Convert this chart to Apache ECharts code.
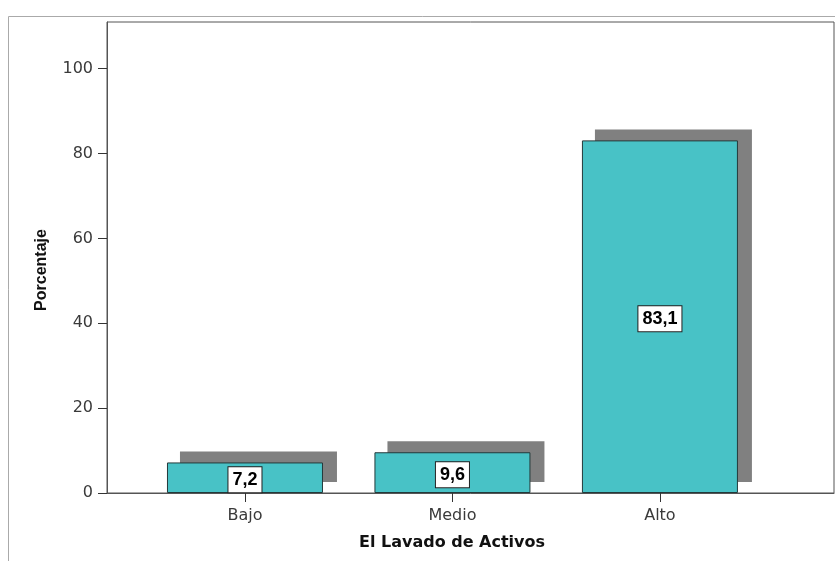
<!DOCTYPE html>
<html>
<head>
<meta charset="utf-8">
<script src="https://cdn.jsdelivr.net/npm/echarts@6/dist/echarts.min.js"></script>
<style>
html,body{margin:0;padding:0;background:#fff;}
#chart{width:835px;height:561px;}
</style>
</head>
<body>
<div id="chart"></div>
<script>
const categories = ['Bajo', 'Medio', 'Alto'];
const values = [7.2, 9.6, 83.1];
const yTicks = [0, 20, 40, 60, 80, 100];

const chart = echarts.init(document.getElementById('chart'), null, {renderer: 'canvas'});
const barData = values.map((v, i) => [i, v]);
const FONT = '"Liberation Sans", Arial, sans-serif';
const TICKFONT = '"DejaVu Sans", sans-serif';
const BAR_W = 156;

const option = {
  backgroundColor: '#fff',
  animation: false,
  grid: {
    left: 107, right: 1, top: 22, bottom: 68,
    show: true, borderColor: '#555', borderWidth: 1, backgroundColor: 'transparent'
  },
  xAxis: {
    type: 'value',
    min: -0.665, max: 2.839,
    splitLine: {show: false},
    axisLine: {show: true, onZero: false, lineStyle: {color: '#555', width: 1}},
    axisTick: {show: true, length: 9, customValues: [0, 1, 2], lineStyle: {color: '#333'}},
    axisLabel: {
      customValues: [0, 1, 2], margin: 15,
      formatter: v => categories[Math.round(v)] || '',
      color: '#3a3a3a', fontFamily: TICKFONT, fontSize: 16
    }
  },
  yAxis: {
    type: 'value',
    min: 0, max: 111,
    splitLine: {show: false},
    axisLine: {show: true, onZero: false, lineStyle: {color: '#555', width: 1}},
    axisTick: {show: true, length: 9, customValues: yTicks, lineStyle: {color: '#333'}},
    axisLabel: {
      customValues: yTicks, margin: 14,
      color: '#3a3a3a', fontFamily: TICKFONT, fontSize: 16
    }
  },
  graphic: [
    {type: 'rect', z: -10, silent: true,
     shape: {x: 8.5, y: 16.5, width: 900, height: 700},
     style: {fill: 'none', stroke: '#aaa', lineWidth: 1}},
    {type: 'text', z: 10, x: 452, y: 543,
     style: {text: 'El Lavado de Activos', font: 'bold 16px "DejaVu Sans", sans-serif', fill: '#111', align: 'center', verticalAlign: 'middle'}},
    {type: 'text', z: 10, x: 42, y: 270, rotation: Math.PI / 2,
     style: {text: 'Porcentaje', font: 'bold 16px ' + FONT, fill: '#111', align: 'center', verticalAlign: 'middle'}}
  ],
  series: [
    {
      type: 'custom',
      z: 1,
      data: barData,
      renderItem: function (params, api) {
        const top = api.coord([api.value(0), api.value(1)]);
        const base = api.coord([api.value(0), 0]);
        return {
          type: 'rect',
          shape: {x: top[0] - BAR_W / 2 + 13, y: top[1] - 11, width: BAR_W + 1, height: base[1] - top[1]},
          style: {fill: '#808080'}
        };
      }
    },
    {
      type: 'bar',
      z: 2,
      data: barData,
      barWidth: BAR_W,
      itemStyle: {color: '#48C2C6', borderColor: '#23393a', borderWidth: 1},
      label: {
        show: true, position: 'inside', offset: [0, 2],
        formatter: p => String(p.value[1]).replace('.', ','),
        fontFamily: FONT, fontWeight: 'bold', fontSize: 18, lineHeight: 18, color: '#000',
        backgroundColor: '#fff', borderColor: '#222', borderWidth: 1, padding: [4, 4, 3, 4]
      }
    }
  ]
};
chart.setOption(option);
</script>
</body>
</html>
